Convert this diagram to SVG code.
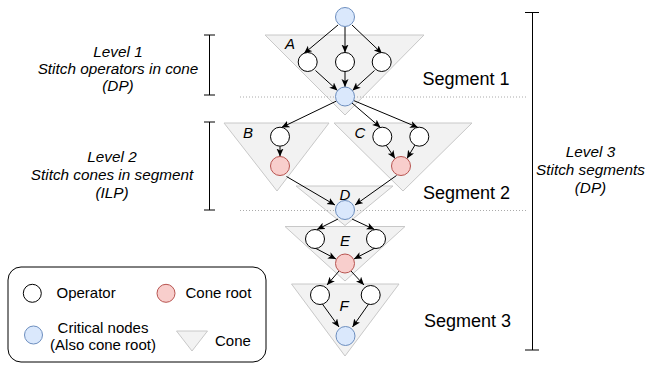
<svg xmlns="http://www.w3.org/2000/svg" width="649" height="365" viewBox="0 0 649 365">
<defs>
<marker id="arr" markerUnits="userSpaceOnUse" markerWidth="9" markerHeight="8" refX="8" refY="3.5" orient="auto">
<path d="M0,0 L8,3.5 L0,7 L2,3.5 z" fill="#000"/>
</marker>
<style>
.cone{fill:#f2f2f2;stroke:#c8c8c8;stroke-width:1}
.op{fill:#fff;stroke:#000;stroke-width:1}
.crit{fill:#dae8fc;stroke:#6c8ebf;stroke-width:1}
.root{fill:#f8cecc;stroke:#b85450;stroke-width:1}
.e{stroke:#000;stroke-width:1;fill:none;marker-end:url(#arr)}
.t{font-family:"Liberation Sans",Arial,sans-serif;fill:#000}
.it{font-style:italic}
.dot{stroke:#aaa;stroke-width:1;stroke-dasharray:1 2;fill:none}
.br{stroke:#000;stroke-width:1;fill:none}
</style>
</defs>
<rect width="649" height="365" fill="#fff"/>

<g id="cones">
<polygon id="coneA" class="cone" points="265,35 424,35 345,115"/>
<polygon id="coneB" class="cone" points="224,123 329,123 277,191"/>
<polygon id="coneC" class="cone" points="334,123 472,123 403,191"/>
<polygon id="coneD" class="cone" points="296,186 393,186 345,225.5"/>
<polygon id="coneE" class="cone" points="285,226.5 405,226.5 345,281"/>
<polygon id="coneF" class="cone" points="291.5,284 399,284 345,356"/>
</g>

<g id="separators">
<line class="dot" x1="240" y1="97" x2="527" y2="97"/>
<line class="dot" x1="240" y1="210.5" x2="527" y2="210.5"/>
</g>

<g id="cone-labels" class="t it" font-size="15" text-anchor="middle">
<text x="290" y="48.5">A</text>
<text x="248" y="137.5">B</text>
<text x="360" y="137.5">C</text>
<text x="345" y="199.5">D</text>
<text x="345" y="245.5">E</text>
<text x="344" y="310.5">F</text>
</g>

<g id="connectors">
<line class="e" x1="338" y1="25" x2="304" y2="53.5"/>
<line class="e" x1="345" y1="26.5" x2="345" y2="52.5"/>
<line class="e" x1="352" y1="25" x2="382" y2="53.5"/>
<line class="e" x1="315.5" y1="70.5" x2="337.5" y2="90.5"/>
<line class="e" x1="345" y1="71.5" x2="345" y2="87"/>
<line class="e" x1="374.5" y1="70.5" x2="352.5" y2="90.5"/>
<line class="e" x1="336.5" y1="101" x2="281.5" y2="127.5"/>
<line class="e" x1="352" y1="103" x2="380.5" y2="127.5"/>
<line class="e" x1="353.8" y1="100.6" x2="418" y2="127.5"/>
<line class="e" x1="280" y1="146.2" x2="280" y2="156.5"/>
<line class="e" x1="386" y1="145" x2="395" y2="158.5"/>
<line class="e" x1="415" y1="145" x2="407" y2="158.5"/>
<line class="e" x1="286.5" y1="176.5" x2="335" y2="205"/>
<line class="e" x1="396.5" y1="175.5" x2="355" y2="205"/>
<line class="e" x1="338" y1="219" x2="317" y2="229.5"/>
<line class="e" x1="352" y1="219" x2="374.5" y2="229.5"/>
<line class="e" x1="315" y1="248" x2="336" y2="259"/>
<line class="e" x1="375" y1="248" x2="354" y2="259"/>
<line class="e" x1="339" y1="271" x2="327" y2="285"/>
<line class="e" x1="351" y1="271" x2="364" y2="285"/>
<line class="e" x1="322" y1="303.5" x2="339" y2="327"/>
<line class="e" x1="369" y1="303.5" x2="352.5" y2="327"/>
</g>

<g id="n-top"><circle class="crit" cx="345" cy="17" r="9.5"/></g>
<g id="n-a1"><circle class="op" cx="307.7" cy="62" r="9.5"/></g>
<g id="n-a2"><circle class="op" cx="345" cy="62" r="9.5"/></g>
<g id="n-a3"><circle class="op" cx="381.7" cy="62" r="9.5"/></g>
<g id="n-mid"><circle class="crit" cx="345" cy="96.5" r="9.5"/></g>
<g id="n-b1"><circle class="op" cx="280" cy="136.7" r="9.5"/></g>
<g id="n-broot"><circle class="root" cx="280" cy="166" r="9.5"/></g>
<g id="n-c1"><circle class="op" cx="382.3" cy="136.7" r="9.5"/></g>
<g id="n-c2"><circle class="op" cx="419.3" cy="136.7" r="9.5"/></g>
<g id="n-croot"><circle class="root" cx="401" cy="166" r="9.5"/></g>
<g id="n-d"><circle class="crit" cx="345" cy="210" r="9.5"/></g>
<g id="n-e1"><circle class="op" cx="315" cy="239" r="9.5"/></g>
<g id="n-e2"><circle class="op" cx="376" cy="239" r="9.5"/></g>
<g id="n-eroot"><circle class="root" cx="345" cy="263.5" r="9.5"/></g>
<g id="n-f1"><circle class="op" cx="320" cy="295" r="9.5"/></g>
<g id="n-f2"><circle class="op" cx="370.7" cy="295" r="9.5"/></g>
<g id="n-froot"><circle class="crit" cx="345.5" cy="336" r="9.5"/></g>

<g id="segments" class="t" font-size="18">
<text x="422.5" y="85">Segment 1</text>
<text x="423" y="199">Segment 2</text>
<text x="424" y="327">Segment 3</text>
</g>

<g id="level1">
<path class="br" d="M209.5,35 V95 M204,35 H215 M204,95 H215"/>
<text class="t it" font-size="15.3" text-anchor="middle"><tspan x="118" y="56.5">Level 1</tspan><tspan x="118" y="74">Stitch operators in cone</tspan><tspan x="118" y="91">(DP)</tspan></text>
</g>
<g id="level2">
<path class="br" d="M209.5,122 V210 M204,122 H215 M204,210 H215"/>
<text class="t it" font-size="15.3" text-anchor="middle"><tspan x="112" y="162">Level 2</tspan><tspan x="112" y="180">Stitch cones in segment</tspan><tspan x="112" y="198">(ILP)</tspan></text>
</g>
<g id="level3">
<path class="br" d="M532.5,12.5 V350 M525,12.5 H539 M525,350 H539"/>
<text class="t it" font-size="15.3" text-anchor="middle"><tspan x="590.5" y="156.5">Level 3</tspan><tspan x="590.5" y="175">Stitch segments</tspan><tspan x="590.5" y="193">(DP)</tspan></text>
</g>

<g id="legend">
<rect x="8" y="267" width="258" height="95" rx="13" fill="#fff" stroke="#000" stroke-width="1"/>
<circle class="op" cx="32.3" cy="293.3" r="9"/>
<text class="t" font-size="15" x="56.5" y="298">Operator</text>
<circle class="root" cx="166" cy="293.3" r="9"/>
<text class="t" font-size="15" x="185.5" y="298">Cone root</text>
<circle class="crit" cx="33.5" cy="335" r="9"/>
<text class="t" font-size="15" text-anchor="middle"><tspan x="103" y="333">Critical nodes</tspan><tspan x="103" y="350">(Also cone root)</tspan></text>
<polygon class="cone" points="176.5,331 207.5,331 192,351"/>
<text class="t" font-size="15" x="215" y="346">Cone</text>
</g>
</svg>
